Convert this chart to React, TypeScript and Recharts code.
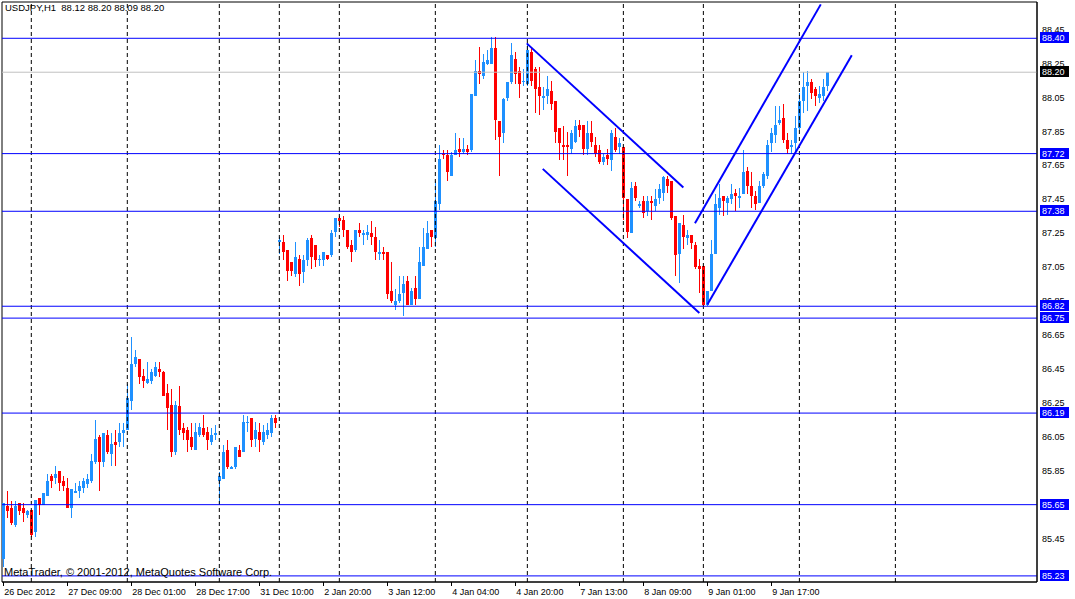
import React from "react";
import {
  ComposedChart,
  Bar,
  XAxis,
  YAxis,
  ReferenceLine,
  ReferenceArea,
} from "recharts";

// USDJPY H1 candles (bar index 0 = 26 Dec 2012)
const OPEN = [
  85.33, 85.64, 85.63, 85.53, 85.66, 85.63, 85.59, 85.62, 85.49, 85.69,
  85.65, 85.70, 85.82, 85.81, 85.85, 85.79, 85.75, 85.63, 85.72, 85.73,
  85.75, 85.77, 85.79, 85.90, 86.05, 85.90, 86.06, 85.95, 86.02, 86.02,
  86.07, 86.09, 86.26, 86.48, 86.51, 86.41, 86.37, 86.38, 86.41, 86.45,
  86.43, 86.31, 86.24, 85.96, 86.23, 86.10, 86.09, 86.05, 85.97, 86.06,
  86.10, 86.08, 86.02, 86.06, 85.79, 85.80, 85.97, 85.86, 85.87, 85.97,
  85.96, 86.13, 86.16, 86.04, 86.08, 86.02, 86.06, 86.07, 86.16, 87.20,
  87.20, 87.15, 87.08, 87.01, 87.10, 87.02, 87.09, 87.22, 87.18, 87.09,
  87.09, 87.12, 87.12, 87.26, 87.34, 87.33, 87.27, 87.18, 87.15, 87.27,
  87.24, 87.24, 87.25, 87.23, 87.13, 87.14, 87.14, 86.91, 86.83, 86.85,
  86.90, 86.97, 86.83, 86.93, 86.86, 87.06, 87.16, 87.27, 87.22, 87.42,
  87.72, 87.71, 87.59, 87.71, 87.75, 87.73, 87.75, 87.74, 88.06, 88.21,
  88.18, 88.25, 88.25, 88.34, 87.91, 87.84, 88.05, 88.14, 88.28, 88.21,
  88.14, 88.13, 88.32, 88.22, 88.11, 88.05, 88.06, 88.09, 88.03, 87.87,
  87.77, 87.77, 87.75, 87.79, 87.89, 87.89, 87.75, 87.84, 87.77, 87.74,
  87.67, 87.71, 87.68, 87.82, 87.76, 87.76, 87.45, 87.25, 87.53, 87.41,
  87.44, 87.38, 87.44, 87.41, 87.46, 87.49, 87.57, 87.56, 87.35, 87.13,
  87.30, 87.22, 87.24, 87.18, 87.06, 87.06, 86.83, 86.91, 87.13, 87.40,
  87.47, 87.43, 87.45, 87.49, 87.46, 87.48, 87.62, 87.53, 87.47, 87.43,
  87.53, 87.59, 87.78, 87.83, 87.90, 87.93, 87.80, 87.76, 87.78, 87.87,
  88.03, 88.12, 88.14, 88.10, 88.05, 88.06, 88.12,
];

const HIGH = [
  85.66, 85.73, 85.67, 85.67, 85.66, 85.66, 85.62, 85.62, 85.68, 85.69,
  85.72, 85.83, 85.83, 85.88, 85.85, 85.82, 85.81, 85.74, 85.78, 85.79,
  85.81, 85.83, 85.95, 86.15, 86.06, 86.07, 86.09, 86.07, 86.09, 86.13,
  86.13, 86.36, 86.64, 86.56, 86.51, 86.45, 86.49, 86.45, 86.49, 86.49,
  86.44, 86.36, 86.33, 86.26, 86.35, 86.13, 86.11, 86.13, 86.13, 86.13,
  86.18, 86.11, 86.10, 86.12, 85.84, 86.00, 86.03, 85.88, 85.99, 86.00,
  86.18, 86.17, 86.16, 86.14, 86.13, 86.12, 86.13, 86.18, 86.18, 87.23,
  87.24, 87.15, 87.08, 87.20, 87.12, 87.12, 87.22, 87.24, 87.18, 87.12,
  87.14, 87.12, 87.27, 87.34, 87.35, 87.35, 87.27, 87.21, 87.27, 87.31,
  87.27, 87.30, 87.32, 87.29, 87.21, 87.17, 87.14, 87.08, 86.92, 87.00,
  87.00, 87.00, 86.93, 87.00, 87.17, 87.28, 87.32, 87.27, 87.56, 87.77,
  87.74, 87.74, 87.73, 87.84, 87.81, 87.81, 87.77, 88.07, 88.27, 88.35,
  88.31, 88.33, 88.41, 88.41, 87.91, 88.05, 88.14, 88.37, 88.32, 88.23,
  88.22, 88.37, 88.34, 88.23, 88.23, 88.11, 88.18, 88.15, 88.03, 87.87,
  87.88, 87.85, 87.86, 87.92, 87.92, 87.89, 87.91, 87.91, 87.82, 87.77,
  87.72, 87.75, 87.86, 87.87, 87.81, 87.76, 87.45, 87.55, 87.55, 87.44,
  87.47, 87.47, 87.47, 87.51, 87.54, 87.59, 87.59, 87.56, 87.35, 87.31,
  87.36, 87.27, 87.24, 87.20, 87.10, 87.06, 86.91, 87.21, 87.48, 87.54,
  87.47, 87.47, 87.54, 87.51, 87.52, 87.74, 87.64, 87.61, 87.50, 87.56,
  87.61, 87.80, 87.87, 88.00, 88.00, 88.01, 87.84, 87.80, 87.94, 88.08,
  88.20, 88.21, 88.16, 88.11, 88.12, 88.16, 88.20,
];

const LOW = [
  85.28, 85.57, 85.53, 85.52, 85.59, 85.55, 85.57, 85.46, 85.46, 85.59,
  85.65, 85.70, 85.75, 85.77, 85.73, 85.73, 85.63, 85.57, 85.72, 85.69,
  85.72, 85.75, 85.78, 85.89, 85.73, 85.87, 85.95, 85.88, 85.88, 85.99,
  85.99, 86.09, 86.21, 86.46, 86.36, 86.34, 86.36, 86.36, 86.40, 86.40,
  86.29, 86.09, 85.93, 85.94, 86.06, 86.03, 85.96, 85.97, 85.97, 86.05,
  86.05, 85.97, 86.00, 86.03, 85.65, 85.80, 85.86, 85.86, 85.86, 85.93,
  85.96, 86.08, 85.99, 85.99, 85.96, 86.00, 86.04, 86.05, 86.10, 87.13,
  87.09, 86.97, 87.00, 86.99, 86.94, 86.96, 87.06, 87.04, 87.05, 87.06,
  87.06, 87.09, 87.11, 87.23, 87.29, 87.23, 87.16, 87.08, 87.14, 87.23,
  87.18, 87.21, 87.18, 87.09, 87.09, 87.09, 86.86, 86.84, 86.80, 86.84,
  86.76, 86.83, 86.83, 86.83, 86.86, 87.06, 87.16, 87.17, 87.17, 87.39,
  87.69, 87.56, 87.59, 87.71, 87.70, 87.72, 87.71, 87.73, 88.06, 88.13,
  88.16, 88.24, 88.25, 87.80, 87.59, 87.78, 88.03, 88.13, 88.13, 88.05,
  88.12, 88.12, 88.12, 87.96, 87.95, 87.98, 88.01, 87.98, 87.78, 87.68,
  87.68, 87.59, 87.72, 87.78, 87.82, 87.71, 87.71, 87.76, 87.70, 87.66,
  87.65, 87.65, 87.62, 87.73, 87.72, 87.33, 87.22, 87.25, 87.44, 87.40,
  87.34, 87.35, 87.33, 87.38, 87.42, 87.44, 87.49, 87.33, 87.00, 86.96,
  87.16, 87.18, 87.16, 87.04, 86.90, 86.82, 86.82, 86.91, 87.13, 87.36,
  87.35, 87.36, 87.42, 87.38, 87.40, 87.48, 87.48, 87.40, 87.39, 87.43,
  87.52, 87.57, 87.73, 87.78, 87.89, 87.78, 87.72, 87.72, 87.72, 87.86,
  87.96, 87.97, 88.04, 88.00, 88.02, 88.03, 88.09,
];

const CLOSE = [
  85.66, 85.61, 85.54, 85.64, 85.61, 85.60, 85.61, 85.47, 85.68, 85.65,
  85.72, 85.79, 85.79, 85.83, 85.78, 85.76, 85.63, 85.74, 85.73, 85.76,
  85.79, 85.80, 85.91, 86.04, 85.90, 86.07, 85.96, 86.01, 86.00, 86.07,
  86.09, 86.28, 86.48, 86.52, 86.40, 86.38, 86.39, 86.43, 86.46, 86.43,
  86.29, 86.22, 85.96, 86.24, 86.09, 86.07, 86.03, 85.99, 86.08, 86.11,
  86.06, 86.03, 86.06, 86.07, 85.82, 85.96, 85.87, 85.87, 85.99, 85.93,
  86.14, 86.14, 86.03, 86.09, 86.03, 86.08, 86.09, 86.16, 86.13, 87.21,
  87.14, 87.03, 87.03, 87.11, 87.01, 87.09, 87.21, 87.11, 87.09, 87.10,
  87.14, 87.10, 87.25, 87.34, 87.32, 87.27, 87.17, 87.14, 87.27, 87.25,
  87.25, 87.26, 87.23, 87.14, 87.14, 87.13, 86.89, 86.85, 86.85, 86.89,
  86.95, 86.83, 86.91, 86.86, 87.08, 87.17, 87.25, 87.23, 87.44, 87.69,
  87.71, 87.61, 87.71, 87.74, 87.73, 87.75, 87.73, 88.07, 88.21, 88.19,
  88.26, 88.27, 88.34, 87.92, 87.82, 88.04, 88.14, 88.30, 88.19, 88.13,
  88.15, 88.33, 88.15, 88.10, 88.06, 88.06, 88.10, 88.01, 87.85, 87.78,
  87.76, 87.76, 87.84, 87.88, 87.86, 87.75, 87.84, 87.79, 87.72, 87.67,
  87.70, 87.69, 87.84, 87.74, 87.78, 87.46, 87.26, 87.52, 87.46, 87.42,
  87.37, 87.44, 87.43, 87.45, 87.51, 87.58, 87.53, 87.34, 87.12, 87.31,
  87.23, 87.24, 87.19, 87.05, 87.04, 86.83, 86.91, 87.13, 87.42, 87.46,
  87.44, 87.46, 87.48, 87.47, 87.47, 87.61, 87.53, 87.47, 87.42, 87.53,
  87.60, 87.77, 87.84, 87.89, 87.92, 87.80, 87.75, 87.77, 87.87, 88.03,
  88.11, 88.14, 88.08, 88.06, 88.07, 88.11, 88.20,
];

// time axis: bar index of each label, and its text
const DATE_TICKS = [0, 16, 32, 48, 64, 80, 96, 112, 128, 144, 160, 176, 192];
const DATE_LABELS = [
  "26 Dec 2012", "27 Dec 09:00", "28 Dec 01:00", "28 Dec 17:00",
  "31 Dec 10:00", "2 Jan 20:00", "3 Jan 12:00", "4 Jan 04:00",
  "4 Jan 20:00", "7 Jan 13:00", "8 Jan 09:00", "9 Jan 01:00", "9 Jan 17:00",
];
// bars where the dotted grid verticals fall
const GRID_BARS = [7, 31, 54, 69, 84, 108, 131, 155, 175, 199, 223];

const PRICE_TICKS = [
  85.25, 85.45, 85.65, 85.85, 86.05, 86.25, 86.45, 86.65, 86.85,
  87.05, 87.25, 87.45, 87.65, 87.85, 88.05, 88.25, 88.45,
];
const LEVELS = [88.4, 87.72, 87.38, 86.82, 86.75, 86.19, 85.65, 85.23];
const LAST_PRICE = 88.2;

// channel lines: [bar, price] endpoints
const TREND_LINES = [
  [[130.85, 88.37], [170.0, 87.52]],
  [[134.85, 87.63], [174.0, 86.78]],
  [[172.9, 87.31], [204.35, 88.6]],
  [[176.0, 86.83], [212.1, 88.3]],
];

const X_DOMAIN: [number, number] = [-0.325, 258.4];
const Y_DOMAIN: [number, number] = [85.194, 88.614];

const FONT = "'Liberation Sans', Arial, sans-serif";
const BULL = "#1E90FF";
const BEAR = "#FF0000";

const data = OPEN.map((open, i) => ({
  i,
  open,
  high: HIGH[i],
  low: LOW[i],
  close: CLOSE[i],
}));

function Candle(props: any) {
  const { x, y, width, height, payload } = props;
  if (x == null || y == null || !payload) return null;
  const top = Math.min(y, y + height);
  const bottom = Math.max(y, y + height);
  const range = payload.high - payload.low;
  const k = range > 0 ? (bottom - top) / range : 0;
  const py = (v: number) => top + (payload.high - v) * k;
  const cx = Math.floor(x + width / 2);
  const up = payload.close >= payload.open;
  const color = up ? BULL : BEAR;
  const bTop = py(Math.max(payload.open, payload.close));
  const bBot = py(Math.min(payload.open, payload.close));
  return (
    <g shapeRendering="crispEdges">
      <rect x={cx} y={top} width={1} height={Math.max(1, bottom - top)} fill={color} />
      <rect x={cx - 1} y={bTop} width={3} height={Math.max(1, bBot - bTop)} fill={color} />
    </g>
  );
}

function DateTick(props: any) {
  const { x, y, payload } = props;
  const idx = DATE_TICKS.indexOf(payload.value);
  return (
    <g>
      <line x1={x} y1={y} x2={x} y2={y + 4} stroke="#000" shapeRendering="crispEdges" />
      <text x={x + 1} y={y + 13} fontSize={9} fontFamily={FONT} fill="#000" textAnchor="start">
        {DATE_LABELS[idx]}
      </text>
    </g>
  );
}

// price scale text, drawn as labels so the level boxes can sit on top of it
function PriceText({ viewBox, value }: any) {
  if (!viewBox) return null;
  return (
    <text
      x={viewBox.x + viewBox.width + 5}
      y={viewBox.y + 3}
      fontSize={9}
      fontFamily={FONT}
      fill="#000"
    >
      {value.toFixed(2)}
    </text>
  );
}

function PriceBox({ viewBox, value, fill }: any) {
  if (!viewBox) return null;
  const bx = viewBox.x + viewBox.width + 3;
  const by = viewBox.y;
  return (
    <g>
      <rect x={bx} y={by - 6} width={29} height={11} fill={fill} shapeRendering="crispEdges" />
      <text x={bx + 2} y={by + 3} fontSize={9} fontFamily={FONT} fill="#fff">
        {value.toFixed(2)}
      </text>
    </g>
  );
}

export default function App() {
  return (
    <div style={{ position: "absolute", left: 0, top: 0, width: 1075, height: 599, background: "#fff" }}>
      <ComposedChart
        width={1075}
        height={599}
        data={data}
        margin={{ top: 2, right: 0, bottom: 0, left: 2 }}
      >
        <XAxis
          dataKey="i"
          type="number"
          domain={X_DOMAIN}
          allowDataOverflow
          ticks={DATE_TICKS}
          interval={0}
          height={17}
          tickSize={0}
          tickMargin={0}
          tickLine={false}
          axisLine={{ stroke: "#000" }}
          tick={<DateTick />}
        />
        <YAxis
          orientation="right"
          type="number"
          domain={Y_DOMAIN}
          allowDataOverflow
          ticks={PRICE_TICKS}
          interval={0}
          width={38}
          tickSize={3}
          tickLine={{ stroke: "#000" }}
          axisLine={{ stroke: "#000" }}
          tick={false}
        />
        <ReferenceArea
          x1={X_DOMAIN[0]}
          x2={X_DOMAIN[1]}
          y1={Y_DOMAIN[0]}
          y2={Y_DOMAIN[1]}
          fill="none"
          stroke="#000"
          ifOverflow="visible"
        />
        {GRID_BARS.map((b) => (
          <ReferenceLine
            key={"g" + b}
            x={b}
            stroke="#000"
            strokeDasharray="4 3"
            ifOverflow="visible"
          />
        ))}
        {PRICE_TICKS.map((p) => (
          <ReferenceLine
            key={"p" + p}
            y={p}
            stroke="none"
            label={<PriceText value={p} />}
          />
        ))}
        <ReferenceLine
          y={LAST_PRICE}
          stroke="#C0C0C0"
          label={<PriceBox value={LAST_PRICE} fill="#000" />}
        />
        {LEVELS.map((p) => (
          <ReferenceLine
            key={"l" + p}
            y={p}
            stroke="#0000FF"
            label={<PriceBox value={p} fill="#0000FF" />}
          />
        ))}
        <Bar
          dataKey={(d: any) => [d.low, d.high]}
          barSize={3}
          shape={<Candle />}
          isAnimationActive={false}
        />
        {TREND_LINES.map((seg, k) => (
          <ReferenceLine
            key={"t" + k}
            segment={[
              { x: seg[0][0], y: seg[0][1] },
              { x: seg[1][0], y: seg[1][1] },
            ]}
            stroke="#0000FF"
            strokeWidth={2}
            ifOverflow="visible"
          />
        ))}
      </ComposedChart>
      <div
        style={{
          position: "absolute",
          left: 5,
          top: 2,
          fontFamily: FONT,
          fontSize: 9.5,
          lineHeight: "11px",
          whiteSpace: "pre",
          color: "#000",
        }}
      >
        {"USDJPY,H1  88.12 88.20 88.09 88.20"}
      </div>
      <div
        style={{
          position: "absolute",
          left: 4,
          top: 566,
          fontFamily: FONT,
          fontSize: 11,
          lineHeight: "13px",
          whiteSpace: "pre",
          color: "#000",
        }}
      >
        {"MetaTrader, © 2001-2012, MetaQuotes Software Corp."}
      </div>
    </div>
  );
}
